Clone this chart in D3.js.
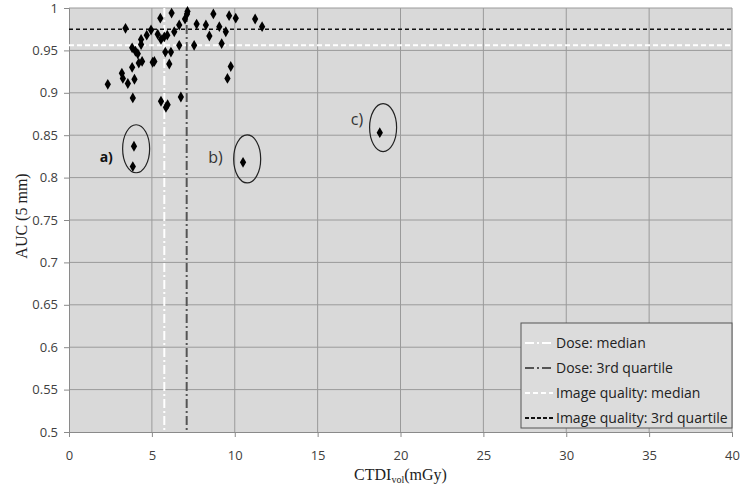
<!DOCTYPE html>
<html>
<head>
<meta charset="utf-8">
<script src="https://cdn.jsdelivr.net/npm/d3@7"></script>
<style>
  html, body { margin: 0; padding: 0; background: #fff; }
  svg { display: block; }
</style>
</head>
<body>
<div id="chart"></div>
<script>
// CTDIvol (mGy) and AUC values
const ctdi = [2.34, 3.19, 3.25, 3.55, 3.95, 3.85, 3.81, 4.21, 4.41, 3.41,
  3.81, 4.01, 4.15, 4.35, 4.35, 4.69, 4.95, 5.05, 5.15, 5.51,
  6.19, 7.15, 7.12, 7.0, 6.65, 6.35, 5.35, 5.55, 5.75, 5.93,
  5.81, 6.15, 6.05, 6.65, 7.55, 7.7, 8.26, 5.55, 5.85, 5.95,
  6.75, 8.71, 9.66, 10.06, 11.23, 11.65, 9.07, 8.47, 9.46, 9.21,
  9.76, 9.56, 3.92, 3.85, 10.5, 18.75];
const auc = [0.910, 0.923, 0.917, 0.911, 0.916, 0.894, 0.930, 0.935, 0.937, 0.976,
  0.953, 0.949, 0.946, 0.957, 0.963, 0.968, 0.974, 0.936, 0.937, 0.988,
  0.994, 0.996, 0.993, 0.987, 0.980, 0.972, 0.969, 0.963, 0.966, 0.968,
  0.948, 0.948, 0.934, 0.956, 0.956, 0.981, 0.980, 0.890, 0.883, 0.886,
  0.895, 0.993, 0.991, 0.988, 0.987, 0.978, 0.978, 0.967, 0.972, 0.958,
  0.931, 0.917, 0.837, 0.813, 0.818, 0.853];

const doseMedian = 5.75, doseQ3 = 7.1;
const iqMedian = 0.956, iqQ3 = 0.975;

// circled outliers: label, centre x, centre y
const circleLabels = ["a)", "b)", "c)"];
const circleX = [4.05, 10.75, 18.95];
const circleY = [0.834, 0.822, 0.859];
const labelX = [1.85, 8.4, 17.0];
const labelY = [0.824, 0.824, 0.869];

const legendNames = ["Dose: median", "Dose: 3rd quartile", "Image quality: median", "Image quality: 3rd quartile"];

const xTicks = d3.range(0, 41, 5);
const yTicks = d3.range(0.5, 1.0001, 0.05);

const width = 742, height = 486;
const margin = {top: 8, right: 10, bottom: 54, left: 69};
const innerWidth = width - margin.left - margin.right;
const innerHeight = height - margin.top - margin.bottom;

const svg = d3.select("#chart").append("svg")
  .attr("width", width).attr("height", height);
const g = svg.append("g").attr("transform", `translate(${margin.left},${margin.top})`);

const x = d3.scaleLinear().domain([0, 40]).range([0, innerWidth]);
const y = d3.scaleLinear().domain([0.5, 1]).range([innerHeight, 0]);

g.append("rect").attr("width", innerWidth).attr("height", innerHeight).attr("fill", "#d9d9d9");

// grid
g.selectAll(".vgrid").data(xTicks.slice(1)).enter().append("line")
  .attr("x1", d => x(d)).attr("x2", d => x(d)).attr("y1", 0).attr("y2", innerHeight)
  .attr("stroke", "#9a9a9a").attr("stroke-width", 1);
g.selectAll(".hgrid").data(yTicks.slice(1)).enter().append("line")
  .attr("x1", 0).attr("x2", innerWidth).attr("y1", d => y(d)).attr("y2", d => y(d))
  .attr("stroke", "#9a9a9a").attr("stroke-width", 1);

// axes
const gX = g.append("g").attr("transform", `translate(0,${innerHeight})`)
  .call(d3.axisBottom(x).tickValues(xTicks).tickSize(5).tickPadding(14));
const gY = g.append("g")
  .call(d3.axisLeft(y).tickValues(yTicks).tickSize(5).tickPadding(6).tickFormat(d => +d.toFixed(2)));
[gX, gY].forEach(a => {
  a.attr("font-family", "'Open Sans', sans-serif").attr("font-size", 13);
  a.select(".domain").attr("stroke", "#8a8a8a");
  a.selectAll(".tick line").attr("stroke", "#8a8a8a");
  a.selectAll(".tick text").attr("fill", "#404040");
});

// reference lines
g.append("line").attr("x1", x(doseMedian)).attr("x2", x(doseMedian)).attr("y1", 0).attr("y2", innerHeight)
  .attr("stroke", "#ffffff").attr("stroke-width", 2).attr("stroke-dasharray", "9,3,2,3");
g.append("line").attr("x1", x(doseQ3)).attr("x2", x(doseQ3)).attr("y1", 0).attr("y2", innerHeight)
  .attr("stroke", "#555555").attr("stroke-width", 2).attr("stroke-dasharray", "9,3,2,3");
g.append("line").attr("x1", 0).attr("x2", innerWidth).attr("y1", y(iqMedian)).attr("y2", y(iqMedian))
  .attr("stroke", "#ffffff").attr("stroke-width", 2).attr("stroke-dasharray", "5,3");
g.append("line").attr("x1", 0).attr("x2", innerWidth).attr("y1", y(iqQ3)).attr("y2", y(iqQ3))
  .attr("stroke", "#111111").attr("stroke-width", 1.5).attr("stroke-dasharray", "4,3");

// points
const diamond = d3.symbol().type(d3.symbolDiamond).size(34);
g.selectAll(".pt").data(ctdi).enter().append("path")
  .attr("d", diamond)
  .attr("transform", (d, i) => `translate(${x(d)},${y(auc[i])})`)
  .attr("fill", "#000");

// circled outliers
g.selectAll(".ring").data(circleX).enter().append("ellipse")
  .attr("cx", d => x(d)).attr("cy", (d, i) => y(circleY[i]))
  .attr("rx", 13.5).attr("ry", 24)
  .attr("fill", "none").attr("stroke", "#222").attr("stroke-width", 1.2);
g.selectAll(".lbl").data(circleLabels).enter().append("text")
  .attr("x", (d, i) => x(labelX[i])).attr("y", (d, i) => y(labelY[i]))
  .attr("dy", "0.35em")
  .attr("font-family", "'Open Sans', sans-serif")
  .attr("font-size", (d, i) => i === 0 ? 14 : 16)
  .attr("font-weight", (d, i) => i === 0 ? "bold" : "normal")
  .attr("fill", (d, i) => i === 0 ? "#111" : "#333")
  .text(d => d);

// legend
const lg = g.append("g").attr("transform", `translate(${innerWidth - 211},${innerHeight - 109})`);
lg.append("rect").attr("width", 211).attr("height", 105)
  .attr("fill", "#dcdcdc").attr("stroke", "#555").attr("stroke-width", 1);
const legendStroke = ["#ffffff", "#555555", "#ffffff", "#111111"];
const legendDash = ["9,3,2,3", "9,3,2,3", "5,3", "4,2"];
lg.selectAll(".li").data(legendNames).enter().append("g")
  .attr("transform", (d, i) => `translate(4,${20 + i * 25})`)
  .each(function(d, i) {
    const row = d3.select(this);
    row.append("line").attr("x1", 0).attr("x2", 28).attr("y1", 0).attr("y2", 0)
      .attr("stroke", legendStroke[i]).attr("stroke-width", 2).attr("stroke-dasharray", legendDash[i]);
    row.append("text").attr("x", 31).attr("dy", "0.35em")
      .attr("font-family", "'Open Sans', sans-serif").attr("font-size", 14).attr("fill", "#222")
      .text(d);
  });

// axis titles
svg.append("text")
  .attr("transform", `translate(27,${margin.top + innerHeight / 2 - 4}) rotate(-90)`)
  .attr("text-anchor", "middle")
  .attr("font-family", "'Liberation Serif', serif").attr("font-size", 16).attr("fill", "#222")
  .text("AUC (5 mm)");
const xt = svg.append("text")
  .attr("x", margin.left + innerWidth / 2).attr("y", 480)
  .attr("text-anchor", "middle")
  .attr("font-family", "'Liberation Serif', serif").attr("font-size", 16).attr("fill", "#222");
xt.append("tspan").text("CTDI");
xt.append("tspan").attr("font-size", 10).attr("dy", 3).text("vol");
xt.append("tspan").attr("dy", -3).text("(mGy)");
</script>
</body>
</html>
